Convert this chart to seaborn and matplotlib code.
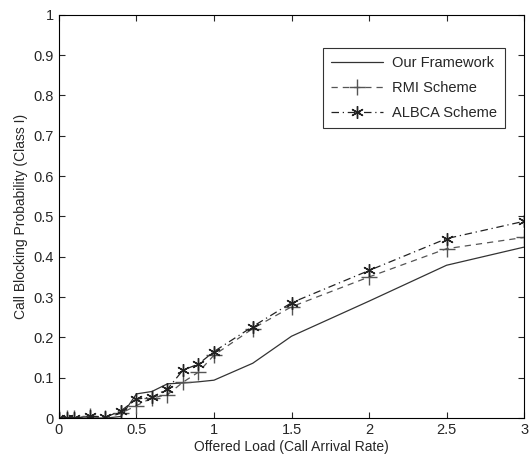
import pandas as pd
import seaborn as sns
import matplotlib.pyplot as plt

# data
load = [0, 0.05, 0.1, 0.2, 0.3, 0.4, 0.5, 0.6, 0.7, 0.8, 0.9, 1.0, 1.25, 1.5, 2.0, 2.5, 3.0]
our_framework = [0, 0, 0, 0, 0, 0.004, 0.060, 0.066, 0.085, 0.087, 0.090, 0.094, 0.136, 0.203, 0.290, 0.379, 0.424]
rmi_scheme = [0, 0, 0, 0.004, 0.001, 0.012, 0.031, 0.050, 0.058, 0.089, 0.114, 0.156, 0.222, 0.276, 0.350, 0.420, 0.448]
albca_scheme = [0, 0, 0, 0.005, 0.002, 0.018, 0.047, 0.052, 0.072, 0.119, 0.134, 0.165, 0.227, 0.286, 0.366, 0.445, 0.488]

series_names = ["Our Framework", "RMI Scheme", "ALBCA Scheme"]

df = pd.DataFrame({
    "load": load * 3,
    "prob": our_framework + rmi_scheme + albca_scheme,
    "scheme": [series_names[0]] * len(load) + [series_names[1]] * len(load) + [series_names[2]] * len(load),
})

sns.set_theme(style="ticks")
plt.rcParams["font.family"] = ["Liberation Sans", "DejaVu Sans"]
plt.rcParams["xtick.direction"] = "in"
plt.rcParams["ytick.direction"] = "in"

fig = plt.figure(figsize=(5.31, 4.63), dpi=100)
ax = fig.add_axes([0.111, 0.097, 0.876, 0.871])

# matlab style: '+' and asterisk markers
styles = {
    "Our Framework": dict(linestyle="-", marker=None, color="#333333", ms=10),
    "RMI Scheme": dict(linestyle=(0, (5, 4)), marker="+", color="#555555", ms=11),
    "ALBCA Scheme": dict(linestyle=(0, (6, 3, 1, 3)), marker=(6, 2, 0), color="#222222", ms=9),
}

for name in series_names:
    st = styles[name]
    sns.lineplot(data=df[df["scheme"] == name], x="load", y="prob", ax=ax,
                 label=name, color=st["color"], linestyle=st["linestyle"],
                 marker=st["marker"], markersize=st["ms"], markeredgewidth=1.0,
                 markeredgecolor=st["color"], markerfacecolor=st["color"],
                 linewidth=0.9)

ax.set_xlim(0, 3)
ax.set_ylim(0, 1)
ax.set_xticks([0, 0.5, 1, 1.5, 2, 2.5, 3])
ax.set_xticklabels(["0", "0.5", "1", "1.5", "2", "2.5", "3"])
ax.set_yticks([i / 10 for i in range(11)])
ax.set_yticklabels(["0"] + [f"{i / 10:.1f}" for i in range(1, 10)] + ["1"])
ax.tick_params(axis="both", labelsize=10.5, top=True, right=True, length=4, width=0.8)
for sp in ax.spines.values():
    sp.set_linewidth(0.8)
    sp.set_color("black")

ax.set_xlabel("Offered Load (Call Arrival Rate)", fontsize=10, labelpad=2)
ax.set_ylabel("Call Blocking Probability (Class I)", fontsize=10, labelpad=4)

leg = ax.legend(loc="upper right", bbox_to_anchor=(0.975, 0.935), fontsize=10.5,
                frameon=True, fancybox=False, edgecolor="black", handlelength=3.6,
                borderpad=0.55, labelspacing=0.75, handletextpad=0.6)
leg.get_frame().set_linewidth(0.8)

fig.savefig("out.png", dpi=100)
